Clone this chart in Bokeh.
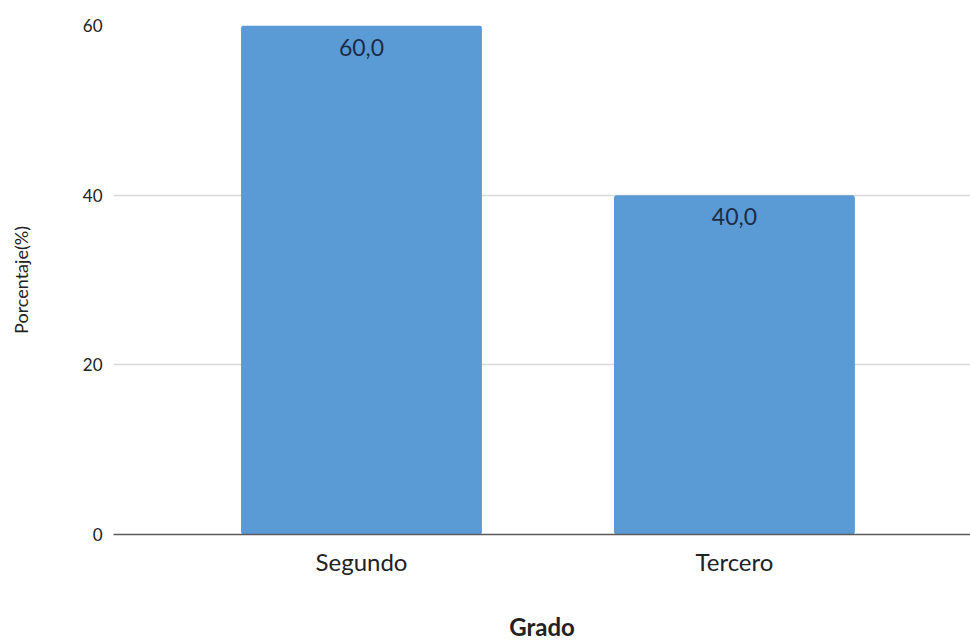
from bokeh.plotting import figure
from bokeh.models import ColumnDataSource, FixedTicker, LabelSet, Range1d
from bokeh.core.properties import value
from bokeh.embed import file_html
from bokeh.resources import INLINE

categories = ["Segundo", "Tercero"]
values = [60.0, 40.0]
y_ticks = [0, 20, 40, 60]

positions = list(range(len(categories)))
labels = [f"{v:.1f}".replace(".", ",") for v in values]
src = ColumnDataSource(dict(x=positions, top=values, label=labels))

p = figure(width=970, height=643, output_backend="svg", toolbar_location=None,
           x_range=Range1d(-0.665, 1.633), y_range=Range1d(0, 60),
           min_border_left=113, min_border_top=25, min_border_right=0,
           min_border_bottom=0)
p.outline_line_color = None
p.background_fill_color = "white"
p.border_fill_color = "white"

p.vbar(x="x", top="top", width=0.646, bottom=0, source=src,
       fill_color="#5b9bd5", line_color=None, border_radius=3)

lbl = LabelSet(x="x", y="top", text="label", source=src, text_align="center",
               text_baseline="top", y_offset=-13, text_font_size="23px",
               text_color="#1c2b48", text_font=value("Lato"))
p.add_layout(lbl)

p.xgrid.grid_line_color = None
p.ygrid.grid_line_color = "#d9d9d9"
p.ygrid.grid_line_width = 1.3
p.ygrid.ticker = FixedTicker(ticks=y_ticks)

p.yaxis.ticker = FixedTicker(ticks=y_ticks)
p.yaxis.axis_line_color = None
p.yaxis.major_tick_line_color = None
p.yaxis.minor_tick_line_color = None
p.yaxis.major_label_text_font = "Lato"
p.yaxis.major_label_text_font_size = "17px"
p.yaxis.major_label_text_color = "#222222"
p.yaxis.major_label_standoff = 5
p.yaxis.axis_label = "Porcentaje(%)"
p.yaxis.axis_label_text_font = "Lato"
p.yaxis.axis_label_text_font_style = "normal"
p.yaxis.axis_label_text_font_size = "18px"
p.yaxis.axis_label_text_color = "#222222"
p.yaxis.axis_label_standoff = 48

p.xaxis.ticker = FixedTicker(ticks=positions)
p.xaxis.major_label_overrides = {i: c for i, c in zip(positions, categories)}
p.xaxis.axis_line_color = "#595959"
p.xaxis.axis_line_width = 1.5
p.xaxis.major_tick_line_color = None
p.xaxis.minor_tick_line_color = None
p.xaxis.major_label_text_font = "Lato"
p.xaxis.major_label_text_font_size = "24px"
p.xaxis.major_label_text_color = "#222222"
p.xaxis.major_label_standoff = 6
p.xaxis.axis_label = "Grado"
p.xaxis.axis_label_text_font = "Lato"
p.xaxis.axis_label_text_font_style = "bold"
p.xaxis.axis_label_text_font_size = "24px"
p.xaxis.axis_label_text_color = "#222222"
p.xaxis.axis_label_standoff = 33

open("out.html", "w").write(file_html(p, INLINE))
